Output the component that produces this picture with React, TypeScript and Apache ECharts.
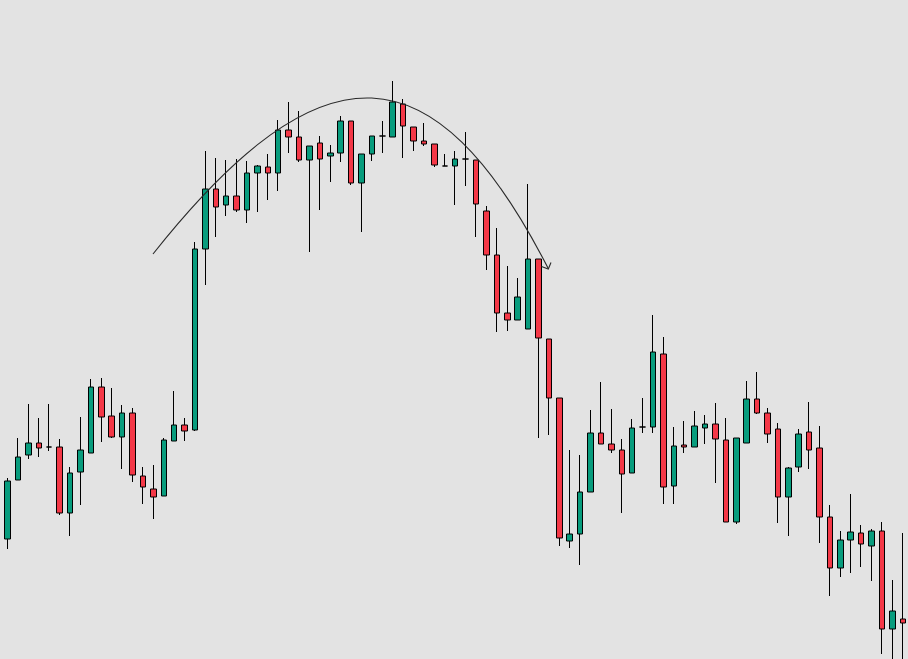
import React, { useEffect, useRef } from "react";
import * as echarts from "echarts";

// Price values (arbitrary price scale, higher = up)
const opens = [277,161,220,245,257,253,253,187,228,247,313,284,263,287,224,211,204,259,275,270,451,511,495,504,490,527,533,527,570,563,540,557,544,547,579,517,546,564,563,596,573,559,556,534,534,541,540,489,445,387,380,371,441,361,302,159,166,208,267,256,250,227,273,273,346,214,255,253,272,276,260,178,257,301,287,271,203,233,268,252,183,132,160,167,154,169,71,81];
const closes = [160,219,243,257,252,253,187,227,250,313,283,263,287,225,213,203,260,275,269,451,511,493,504,490,527,534,527,570,563,540,554,541,547,579,517,546,564,564,598,574,559,556,535,534,541,541,496,445,387,380,403,441,362,302,162,166,208,267,256,250,226,272,273,348,213,254,253,274,276,261,178,262,301,287,266,203,232,266,250,183,132,160,168,156,169,71,89,77];
const lows = [160,151,220,241,243,249,185,164,195,247,258,262,231,218,196,181,204,259,259,269,415,463,484,488,477,488,500,509,547,538,448,490,518,538,515,468,539,547,563,542,549,554,533,534,495,514,463,430,368,369,380,371,262,265,154,152,135,208,256,247,187,227,267,267,196,196,247,253,256,217,178,176,257,286,257,177,164,228,231,157,104,123,127,133,119,46,35,30];
const highs = [277,222,262,296,282,296,261,233,283,321,322,312,295,292,233,235,262,309,282,458,549,542,540,541,539,535,546,580,598,589,554,564,555,584,579,546,564,579,619,601,573,577,556,546,549,568,540,494,472,434,422,516,441,361,302,250,245,290,318,291,261,281,302,385,363,273,279,289,285,297,282,262,319,328,292,277,233,271,298,274,195,169,206,175,171,178,120,167];

const categories = opens.map((_, i) => "D" + (i + 1));
const candles = opens.map((o, i) => [o, closes[i], lows[i], highs[i]]);

// the chart box starts 8px left of the page edge so the first candle is cut off
const OFFSET = 8;

export default function App() {
  const ref = useRef<HTMLDivElement>(null);
  useEffect(() => {
    document.body.style.margin = "0";
    document.body.style.background = "#e3e3e3";
    const chart = echarts.init(ref.current!, null, { renderer: "svg" });
    chart.setOption({
      animation: false,
      backgroundColor: "#e3e3e3",
      grid: { left: 0, right: 0, top: 0, bottom: 0 },
      xAxis: {
        type: "category",
        data: categories,
        show: false,
        boundaryGap: true,
      },
      yAxis: {
        type: "value",
        min: 41,
        max: 700,
        show: false,
      },
      series: [
        {
          type: "candlestick",
          data: candles,
          barWidth: 6,
          clip: false,
          itemStyle: {
            color: "#089c7d",
            color0: "#f43847",
            borderColor: "#000000",
            borderColor0: "#000000",
            borderWidth: 1,
          },
        },
      ],
      graphic: [
        {
          type: "bezierCurve",
          shape: {
            x1: 153 + OFFSET,
            y1: 254,
            cpx1: 323 + OFFSET,
            cpy1: 40,
            cpx2: 434.6 + OFFSET,
            cpy2: 47.5,
            x2: 548 + OFFSET,
            y2: 268,
          },
          style: { stroke: "#2a2a2a", lineWidth: 1.1, fill: null },
          z: 100,
        },
        {
          type: "polyline",
          shape: {
            points: [
              [541.5 + OFFSET, 266.5],
              [548.3 + OFFSET, 269],
              [551 + OFFSET, 262.5],
            ],
          },
          style: { stroke: "#2a2a2a", lineWidth: 1.1, fill: null },
          z: 100,
        },
      ],
    });
    return () => chart.dispose();
  }, []);
  return (
    <div
      ref={ref}
      style={{ position: "fixed", left: -OFFSET, top: 0, width: 908 + OFFSET, height: 659 }}
    />
  );
}
